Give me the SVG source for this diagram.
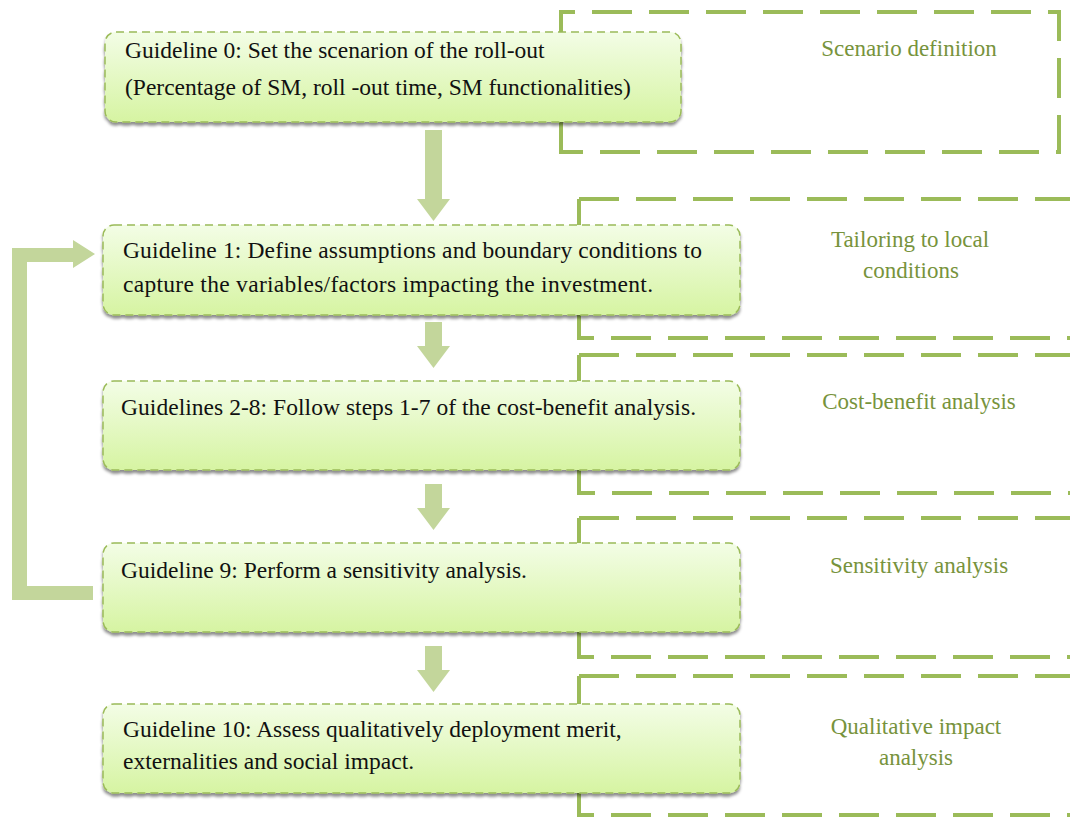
<svg xmlns="http://www.w3.org/2000/svg" width="1070" height="817" viewBox="0 0 1070 817">
<defs>
  <linearGradient id="g" x1="0" y1="0" x2="0" y2="1">
    <stop offset="0" stop-color="#f3fde6"/>
    <stop offset="1" stop-color="#d6f4a2"/>
  </linearGradient>
  <filter id="sh" x="-5%" y="-10%" width="110%" height="130%">
    <feDropShadow dx="0" dy="3" stdDeviation="1.5" flood-color="#000" flood-opacity="0.45"/>
  </filter>
  <style>
    .outer{fill:none;stroke:#9bbb59;stroke-width:4;stroke-dasharray:40 17;}
    .box{fill:url(#g);stroke:#9bbb59;stroke-width:1.5;stroke-dasharray:8 5;filter:url(#sh);}
    .t{font-family:"Liberation Serif","Times New Roman",serif;font-size:23.5px;fill:#111;}
    .lab{font-family:"Liberation Serif","Times New Roman",serif;font-size:23px;fill:#77933c;text-anchor:middle;}
    .arr{fill:#c3d69b;}
  </style>
</defs>
<rect width="1070" height="817" fill="#fff"/>

<g id="outer-frames">
  <path class="outer" d="M561 152 V12 H1059 V152 Z"/>
  <path class="outer" d="M579 199 H1080 M579 199 V338 H1080"/>
  <path class="outer" d="M579 355 H1080 M579 355 V493 H1080"/>
  <path class="outer" d="M579 518 H1080 M579 518 V657 H1080"/>
  <path class="outer" d="M579 676 H1080 M579 676 V815 H1080"/>
</g>

<g id="connectors">
  <path class="arr" d="M425 130 H442 V199 H450 L433.5 221 L417 199 H425 Z"/>
  <path class="arr" d="M425 322 H442 V346 H450 L433.5 368 L417 346 H425 Z"/>
  <path class="arr" d="M425 484 H442 V508 H450 L433.5 530 L417 508 H425 Z"/>
  <path class="arr" d="M425 646 H442 V670 H450 L433.5 692 L417 670 H425 Z"/>
  <path class="arr" d="M93 586 V600 H12 V248 H73 V240 L95 254 L73 268 V262 H27 V586 Z"/>
</g>

<g id="node0">
  <rect class="box" x="105" y="32" width="576" height="90" rx="11"/>
  <text class="t" x="125" y="58">Guideline 0: Set the scenarion of the roll-out</text>
  <text class="t" x="125" y="95">(Percentage of SM, roll -out time, SM functionalities)</text>
</g>
<g id="node1">
  <rect class="box" x="103" y="225" width="637" height="90" rx="11"/>
  <text class="t" x="123" y="258" textLength="579" lengthAdjust="spacing">Guideline 1: Define assumptions and boundary conditions to</text>
  <text class="t" x="123" y="292" textLength="530" lengthAdjust="spacing">capture the variables/factors impacting the investment.</text>
</g>
<g id="node2">
  <rect class="box" x="103" y="381" width="637" height="89" rx="11"/>
  <text class="t" x="121" y="415" textLength="575" lengthAdjust="spacing">Guidelines 2-8: Follow steps 1-7 of the cost-benefit analysis.</text>
</g>
<g id="node3">
  <rect class="box" x="103" y="543" width="637" height="89" rx="11"/>
  <text class="t" x="121" y="578">Guideline 9: Perform a sensitivity analysis.</text>
</g>
<g id="node4">
  <rect class="box" x="103" y="704" width="637" height="89" rx="11"/>
  <text class="t" x="123" y="737">Guideline 10: Assess qualitatively deployment merit,</text>
  <text class="t" x="123" y="769">externalities and social impact.</text>
</g>

<g id="labels">
  <text class="lab" x="909" y="56">Scenario definition</text>
  <text class="lab" x="910" y="247">Tailoring to local</text>
  <text class="lab" x="911" y="278">conditions</text>
  <text class="lab" x="919" y="409">Cost-benefit analysis</text>
  <text class="lab" x="919" y="573">Sensitivity analysis</text>
  <text class="lab" x="916" y="734">Qualitative impact</text>
  <text class="lab" x="916" y="765">analysis</text>
</g>
</svg>
